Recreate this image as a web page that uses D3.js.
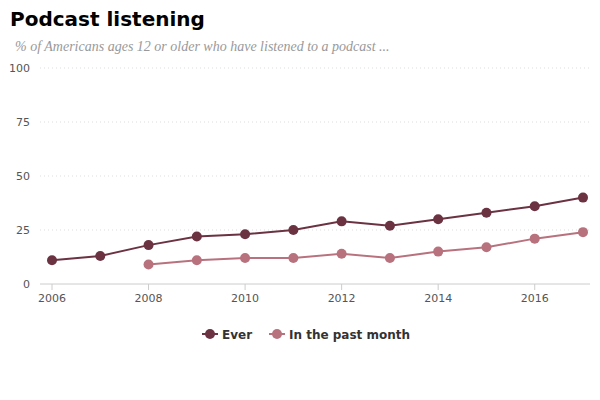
<!DOCTYPE html>
<html><head><meta charset="utf-8">
<script src="https://cdn.jsdelivr.net/npm/d3@7"></script>
<style>body{margin:0;background:#fff;font-family:"DejaVu Sans",sans-serif}</style>
</head><body><svg width="600" height="400"></svg>
<script>
const years=[2006,2007,2008,2009,2010,2011,2012,2013,2014,2015,2016,2017];
const ever=[11,13,18,22,23,25,29,27,30,33,36,40];
const pastYears=[2008,2009,2010,2011,2012,2013,2014,2015,2016,2017];
const pastMonth=[9,11,12,12,14,12,15,17,21,24];
const yTicks=[0,25,50,75,100];
const xTicks=[2006,2008,2010,2012,2014,2016];
const svg=d3.select("svg");
svg.append("text").attr("x",10).attr("y",26).attr("font-size",20).attr("font-weight","bold").attr("fill","#000").text("Podcast listening");
svg.append("text").attr("x",15).attr("y",51).attr("font-size",14).attr("font-style","italic").attr("font-family","Liberation Serif,serif").attr("fill","#999").text("% of Americans ages 12 or older who have listened to a podcast ...");
const x=d3.scaleLinear().domain([2006,2017]).range([52,583]);
const y=d3.scaleLinear().domain([0,100]).range([284,68]);
yTicks.forEach(t=>{
 if(t>0) svg.append("line").attr("x1",40).attr("x2",590).attr("y1",y(t)).attr("y2",y(t)).attr("stroke","#ddd").attr("stroke-dasharray","1,3");
 svg.append("text").attr("x",30).attr("y",y(t)+4).attr("text-anchor","end").attr("font-size",11).attr("fill","#555").text(t);
});
svg.append("line").attr("x1",40).attr("x2",590).attr("y1",y(0)).attr("y2",y(0)).attr("stroke","#ccc");
xTicks.forEach(t=>{
 svg.append("line").attr("x1",x(t)).attr("x2",x(t)).attr("y1",284).attr("y2",290).attr("stroke","#ccc");
 svg.append("text").attr("x",x(t)).attr("y",302).attr("text-anchor","middle").attr("font-size",11).attr("fill","#555").text(t);
});
const line=d3.line().x(d=>x(d[0])).y(d=>y(d[1]));
function series(xs,vs,c){
 const d=xs.map((v,i)=>[v,vs[i]]);
 svg.append("path").attr("d",line(d)).attr("fill","none").attr("stroke",c).attr("stroke-width",2);
 svg.selectAll(null).data(d).enter().append("circle").attr("cx",p=>x(p[0])).attr("cy",p=>y(p[1])).attr("r",5).attr("fill",c);
}
series(years,ever,"#6b3242");
series(pastYears,pastMonth,"#b8727e");
const leg=[["Ever","#6b3242",210],["In the past month","#b8727e",277]];
leg.forEach(([t,c,lx])=>{
 svg.append("line").attr("x1",lx-8).attr("x2",lx+8).attr("y1",334).attr("y2",334).attr("stroke",c).attr("stroke-width",2);
 svg.append("circle").attr("cx",lx).attr("cy",334).attr("r",5).attr("fill",c);
 svg.append("text").attr("x",lx+12).attr("y",338.5).attr("font-size",12).attr("font-weight","bold").attr("fill","#333").text(t);
});
</script></body></html>
